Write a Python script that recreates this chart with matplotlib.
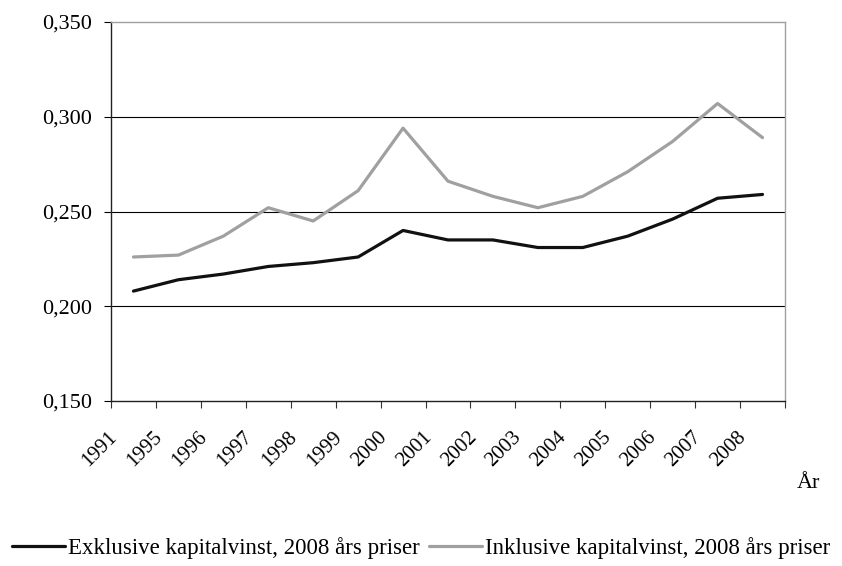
import numpy as np
import matplotlib
matplotlib.use("Agg")
import matplotlib.pyplot as plt
from matplotlib.transforms import ScaledTranslation

# Data
years = ["1991", "1995", "1996", "1997", "1998", "1999", "2000", "2001",
         "2002", "2003", "2004", "2005", "2006", "2007", "2008"]
exklusive = [0.208, 0.214, 0.217, 0.221, 0.223, 0.226, 0.240, 0.235,
             0.235, 0.231, 0.231, 0.237, 0.246, 0.257, 0.259]
inklusive = [0.226, 0.227, 0.237, 0.252, 0.245, 0.261, 0.294, 0.266,
             0.258, 0.252, 0.258, 0.271, 0.287, 0.307, 0.289]
yticks = [0.150, 0.200, 0.250, 0.300, 0.350]
ytick_labels = ["0,150", "0,200", "0,250", "0,300", "0,350"]

plt.rcParams['font.family'] = ['Liberation Serif', 'DejaVu Serif']

fig = plt.figure(figsize=(8.42, 5.66), dpi=100)
ax = fig.add_axes([0.1318, 0.2915, 0.8005, 0.6696])

x = np.arange(len(years))
ax.plot(x, exklusive, color="#111111", lw=2.3, solid_capstyle="round",
        label="Exklusive kapitalvinst, 2008 års priser")
ax.plot(x, inklusive, color="#a0a0a0", lw=2.3, solid_capstyle="round",
        label="Inklusive kapitalvinst, 2008 års priser")

ax.set_xlim(-0.5, len(years) - 0.5)
ax.set_ylim(0.15, 0.35)
ax.set_yticks(yticks)
ax.set_yticklabels(ytick_labels, fontsize=16)
for y in yticks[1:-1]:
    ax.axhline(y, color="black", lw=0.8, zorder=0)

# category boundaries as ticks, labels at centres
ax.set_xticks(np.arange(-0.5, len(years), 1))
ax.set_xticklabels([])
ax.set_xticks(x, minor=True)
ax.set_xticklabels(years, minor=True, rotation=45, ha="right", va="center",
                   rotation_mode="anchor", fontsize=15)
ax.tick_params(axis="x", which="major", length=5, width=0.8, color="#333333")
ax.tick_params(axis="x", which="minor", length=0, pad=24)
ax.tick_params(axis="y", length=5, width=0.8, pad=8.5)
off = ScaledTranslation(-19 / 100, 0, fig.dpi_scale_trans)
for lab in ax.get_xticklabels(minor=True):
    lab.set_transform(lab.get_transform() + off)

ax.spines["left"].set_color("#222222")
ax.spines["bottom"].set_color("#222222")
ax.spines["top"].set_color("#a0a0a0")
ax.spines["right"].set_color("#a0a0a0")
for s in ax.spines.values():
    s.set_linewidth(1.0)

fig.text(0.9466, 0.1466, "År", fontsize=16, ha="left", va="center")

fig.legend(loc="center", bbox_to_anchor=(0.5, 0.032), ncol=2, frameon=False,
           fontsize=16.5, handlelength=2.3, handletextpad=0.13, columnspacing=0.4,
           borderaxespad=0, borderpad=0)

fig.savefig("out.png", dpi=100)
